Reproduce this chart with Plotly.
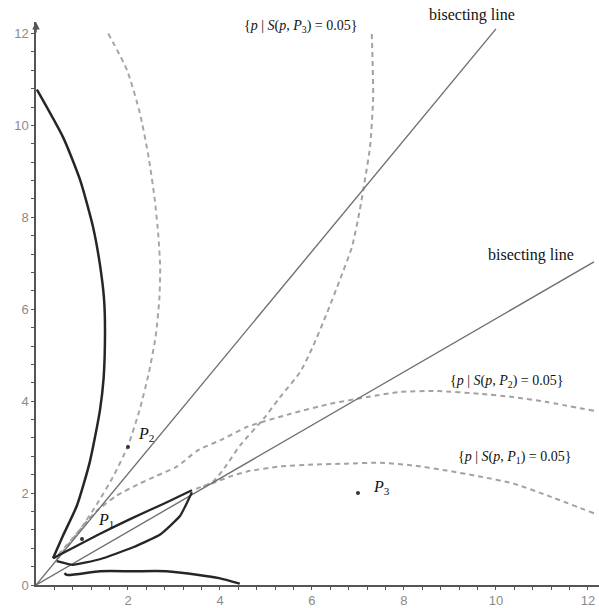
import plotly.graph_objects as go

# ---- data ----
P_x = [1.0, 2.0, 7.0]
P_y = [1.0, 3.0, 2.0]
P_sub = ["1", "2", "3"]
P_label_dx = [24, 18, 24]     # pixel offsets of the labels
P_label_dy = [19, 13, 6]

bis12_x = [0.0, 10.0]
bis12_y = [0.0, 12.1]
bis13_x = [0.0, 12.13]
bis13_y = [0.0, 7.03]

# dashed level sets
left_x = [1.57, 1.98, 2.26, 2.45, 2.58, 2.66, 2.70, 2.68, 2.60, 2.45, 2.25, 2.0, 1.70, 1.35, 0.95, 0.41]
left_y = [12.0, 11.2, 10.26, 9.3, 8.4, 7.6, 6.9, 6.2, 5.4, 4.6, 3.8, 3.03, 2.4, 1.8, 1.2, 0.58]

s3_x = [7.30, 7.33, 7.26, 7.15, 7.04, 6.87, 6.61, 6.33, 6.02, 5.74, 5.30, 4.95, 4.43, 4.15, 3.85, 3.39]
s3_y = [11.99, 10.61, 9.52, 8.81, 8.16, 7.36, 6.65, 5.93, 5.19, 4.63, 4.08, 3.62, 3.03, 2.62, 2.25, 2.06]

s2_x = [12.13, 11.11, 10.37, 9.65, 8.72, 7.91, 7.20, 6.39, 5.52, 4.59, 4.07, 3.50, 3.07, 2.63, 2.26, 1.76, 1.33, 1.11, 0.45]
s2_y = [3.79, 3.98, 4.09, 4.16, 4.22, 4.20, 4.09, 3.94, 3.72, 3.44, 3.18, 2.92, 2.58, 2.38, 2.21, 1.95, 1.62, 1.39, 0.55]

s1_x = [12.13, 11.11, 10.37, 9.65, 8.93, 8.20, 7.48, 6.76, 6.02, 5.30, 4.59, 4.22, 3.93, 3.57]
s1_y = [1.56, 1.95, 2.21, 2.36, 2.49, 2.60, 2.66, 2.64, 2.62, 2.58, 2.47, 2.36, 2.25, 2.12]

# solid curves
arc_x = [0.02, 0.59, 0.96, 1.24, 1.39, 1.48, 1.50, 1.47, 1.39, 1.17, 0.89, 0.59, 0.37]
arc_y = [10.78, 9.74, 8.81, 7.79, 6.97, 6.21, 5.50, 4.50, 3.80, 2.68, 1.73, 1.08, 0.58]

lens_up_x = [0.37, 1.36, 2.08, 2.80, 3.39]
lens_up_y = [0.58, 1.10, 1.45, 1.78, 2.06]
lens_lo_x = [0.45, 0.80, 1.39, 2.11, 2.70, 3.13, 3.39]
lens_lo_y = [0.52, 0.44, 0.56, 0.82, 1.10, 1.50, 2.02]

bottom_x = [0.62, 0.67, 1.39, 2.11, 2.83, 3.54, 3.98, 4.43]
bottom_y = [0.26, 0.22, 0.30, 0.30, 0.30, 0.22, 0.15, 0.03]

x_ticks = [2, 4, 6, 8, 10, 12]
y_ticks = [0, 2, 4, 6, 8, 10, 12]
minor_x = [round(i * 0.4, 2) for i in range(1, 31)]
minor_y = [round(i * 0.4, 2) for i in range(1, 31)]

Y_TOP = 12.25
DASH = "5px,4px"
fig = go.Figure()

def add(x, y, color, width, dash=None, smoothing=0.6):
    fig.add_trace(go.Scatter(x=x, y=y, mode="lines", showlegend=False, hoverinfo="skip",
                             line=dict(color=color, width=width, dash=dash, shape="spline",
                                       smoothing=smoothing)))

# dashed curves
add(left_x, left_y, "#a6a6a6", 2, DASH)
add(s3_x, s3_y, "#a2a2a2", 2, DASH)
add(s2_x, s2_y, "#a2a2a2", 2, DASH)
add(s1_x, s1_y, "#a2a2a2", 2, DASH)
# bisecting lines
for bx, by in ((bis12_x, bis12_y), (bis13_x, bis13_y)):
    fig.add_trace(go.Scatter(x=bx, y=by, mode="lines", showlegend=False, hoverinfo="skip",
                             line=dict(color="#707070", width=1.4)))
# solid curves
add(arc_x, arc_y, "#262626", 2.5)
add(lens_up_x, lens_up_y, "#262626", 2.3, smoothing=0.4)
add(lens_lo_x, lens_lo_y, "#262626", 2.3, smoothing=0.4)
add(bottom_x, bottom_y, "#262626", 2.5)
# points
fig.add_trace(go.Scatter(x=P_x, y=P_y, mode="markers", showlegend=False, hoverinfo="skip",
                         marker=dict(color="#333", size=4)))

SERIF = "Liberation Serif"
for px, py, s, dx, dy in zip(P_x, P_y, P_sub, P_label_dx, P_label_dy):
    fig.add_annotation(x=px, y=py, text="<i>P</i><sub>" + s + "</sub>", showarrow=False,
                       xshift=dx, yshift=dy, xanchor="center", yanchor="middle",
                       font=dict(family=SERIF, size=16, color="#111"))

labels = [
    (5.76, 12.15, "{<i>p</i> | <i>S</i>(<i>p</i>, <i>P</i><sub>3</sub>) = 0.05}", 14),
    (9.48, 12.41, "bisecting line", 16),
    (10.76, 7.18, "bisecting line", 16),
    (10.22, 4.42, "{<i>p</i> | <i>S</i>(<i>p</i>, <i>P</i><sub>2</sub>) = 0.05}", 14),
    (10.41, 2.77, "{<i>p</i> | <i>S</i>(<i>p</i>, <i>P</i><sub>1</sub>) = 0.05}", 14),
]
for lx, ly, t, s in labels:
    fig.add_annotation(x=lx, xref="x", y=ly / Y_TOP, yref="paper", text=t, showarrow=False,
                       xanchor="center", yanchor="middle",
                       font=dict(family=SERIF, size=s, color="#111"))

# arrow at top of y axis
fig.add_annotation(x=0, y=Y_TOP, ax=0, ay=12, text="", showarrow=True,
                   arrowhead=2, arrowsize=1, arrowwidth=1.5, arrowcolor="#555")

axis_font = dict(family="Liberation Sans", size=13, color="#8a8a8a")
common = dict(showgrid=False, zeroline=False, showline=True, linecolor="#555", linewidth=1.5,
              tickmode="array", ticks="outside", ticklen=3, tickcolor="#555", tickfont=axis_font)
fig.update_layout(
    width=599, height=608,
    margin=dict(l=36, r=0, t=22, b=21),
    paper_bgcolor="white", plot_bgcolor="white",
    xaxis=dict(range=[0, 12.24], tickvals=x_ticks, ticklabelstandoff=0,
               minor=dict(tickmode="array", tickvals=minor_x, ticks="outside", ticklen=3,
                          tickcolor="#555"), **common),
    yaxis=dict(range=[0, Y_TOP], tickvals=y_ticks,
               minor=dict(tickmode="array", tickvals=minor_y, ticks="outside", ticklen=3,
                          tickcolor="#555"), **common),
)
fig.write_html("out.html", config={"displayModeBar": False},
               post_script="document.body.style.margin='0';")
